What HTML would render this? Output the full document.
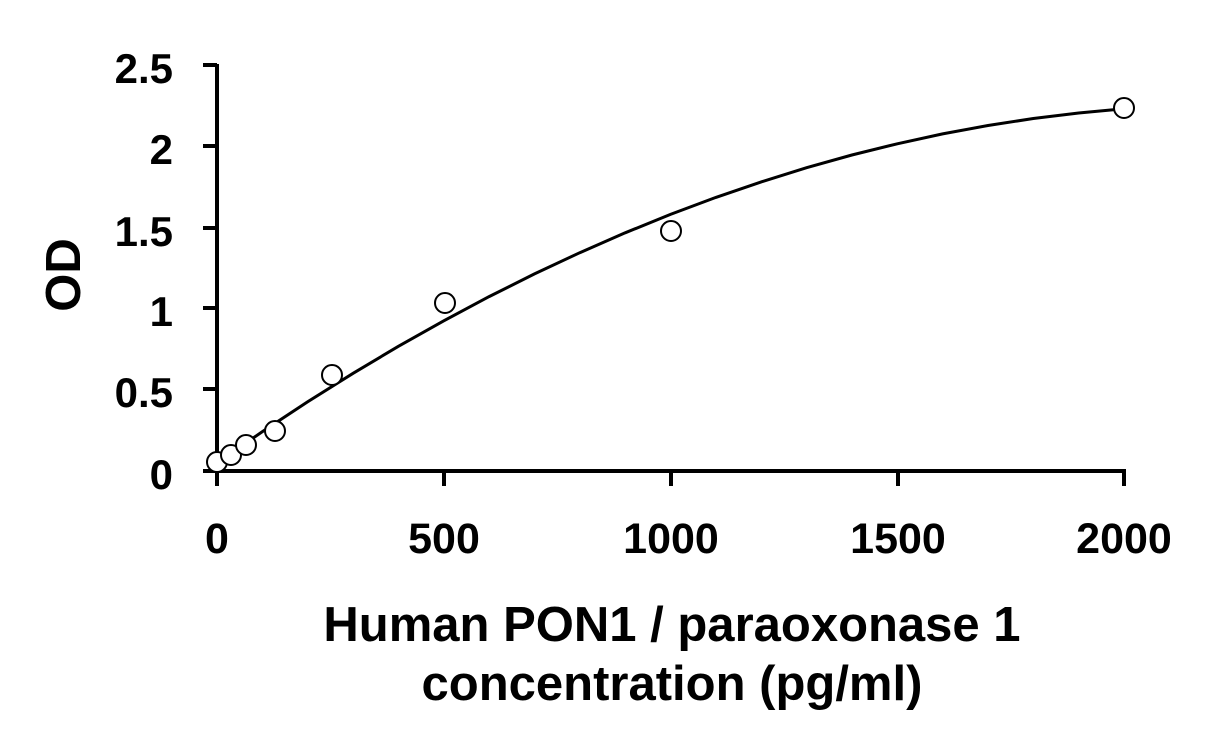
<!DOCTYPE html>
<html><head><style>
html,body{margin:0;padding:0;background:#fff;}
svg text{font-family:"Liberation Sans",Arial,sans-serif;font-weight:bold;fill:#000;}
</style></head><body>
<svg width="1231" height="745" xmlns="http://www.w3.org/2000/svg">
<g stroke="#000" stroke-width="4" fill="none">
<line x1="217" y1="64" x2="217" y2="486"/>
<line x1="203" y1="471" x2="1126" y2="471"/>
<line x1="203" y1="65" x2="217" y2="65"/>
<line x1="203" y1="146" x2="217" y2="146"/>
<line x1="203" y1="228" x2="217" y2="228"/>
<line x1="203" y1="308" x2="217" y2="308"/>
<line x1="203" y1="389" x2="217" y2="389"/>
<line x1="444" y1="471" x2="444" y2="486"/>
<line x1="671" y1="471" x2="671" y2="486"/>
<line x1="898" y1="471" x2="898" y2="486"/>
<line x1="1124" y1="471" x2="1124" y2="486"/>
</g>
<polyline fill="none" stroke="#000" stroke-width="3" points="217,462.9 262.4,431.6 307.7,401.8 353.1,373.3 398.4,346.3 443.8,320.8 489.1,296.6 534.5,273.9 579.8,252.7 625.2,232.8 670.5,214.4 715.9,197.4 761.2,181.9 806.6,167.7 851.9,155 897.3,143.8 942.6,133.9 988,125.5 1033.3,118.5 1078.7,113 1124,108.8"/>
<g fill="#fff" stroke="#000" stroke-width="2">
<circle cx="217" cy="462" r="10"/>
<circle cx="231" cy="455" r="10"/>
<circle cx="246" cy="445" r="10"/>
<circle cx="275" cy="431" r="10"/>
<circle cx="332" cy="375" r="10"/>
<circle cx="445" cy="303" r="10"/>
<circle cx="671" cy="231" r="10"/>
<circle cx="1124" cy="108" r="10"/>
</g>
<g font-size="42" text-anchor="end">
<text x="173" y="83">2.5</text>
<text x="173" y="164">2</text>
<text x="173" y="246">1.5</text>
<text x="173" y="326">1</text>
<text x="173" y="407">0.5</text>
<text x="173" y="489">0</text>
</g>
<g font-size="43" text-anchor="middle">
<text x="217" y="553">0</text>
<text x="444" y="553">500</text>
<text x="671" y="553">1000</text>
<text x="898" y="553">1500</text>
<text x="1124" y="553">2000</text>
</g>
<g font-size="49" text-anchor="middle">
<text x="672" y="641">Human PON1 / paraoxonase 1</text>
<text x="672" y="700">concentration (pg/ml)</text>
<text transform="translate(80,275) rotate(-90)">OD</text>
</g>
</svg>
</body></html>
